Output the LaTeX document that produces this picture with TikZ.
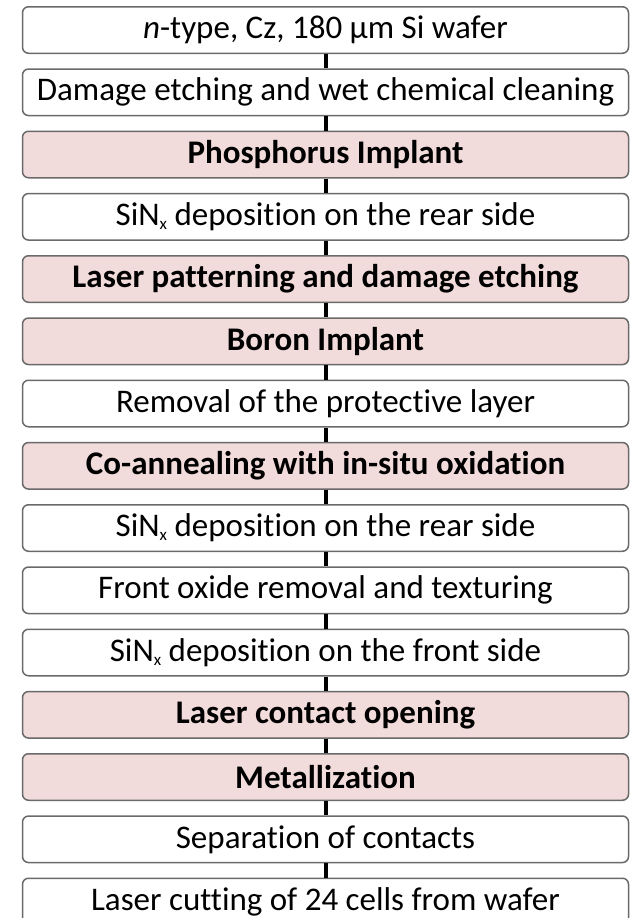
\documentclass[tikz,border=0pt]{standalone}
\usepackage{fontspec}
\setmainfont{Carlito}[Ligatures={NoCommon}]
\definecolor{pinkfill}{HTML}{F2DCDB}
\definecolor{edgegray}{HTML}{6A6A6A}
\tikzset{
  stepbox/.style={draw=edgegray, line width=1.5pt, rounded corners=6pt, fill=white,
    minimum width=606pt, minimum height=46.5pt, inner sep=0pt, font=\fontsize{33}{38}\selectfont},
  pinkbox/.style={stepbox, fill=pinkfill, font=\fontsize{33}{38}\selectfont\bfseries},
  link/.style={line width=4pt, black}
}
\newcommand{\sinx}{SiN\raisebox{-0.25ex}{\fontsize{17}{19}\selectfont x}}
\begin{document}
\begin{tikzpicture}[x=1pt,y=-1pt]
\useasboundingbox (0,0) rectangle (633,918);
\begin{scope}
\clip (0,0) rectangle (633,918);
\node[stepbox] (b1)  at (325.5, 30.0)  {\textit{n}-type, Cz, 180 µm Si wafer};
\node[stepbox] (b2)  at (325.5, 92.3)  {Damage etching and wet chemical cleaning};
\node[pinkbox] (b3)  at (325.5, 154.5) {Phosphorus Implant};
\node[stepbox] (b4)  at (325.5, 216.8) {\sinx{} deposition on the rear side};
\node[pinkbox] (b5)  at (325.5, 279.0) {Laser patterning and damage etching};
\node[pinkbox] (b6)  at (325.5, 341.3) {Boron Implant};
\node[stepbox] (b7)  at (325.5, 403.5) {Removal of the protective layer};
\node[pinkbox] (b8)  at (325.5, 465.8) {Co-annealing with in-situ oxidation};
\node[stepbox] (b9)  at (325.5, 528.0) {\sinx{} deposition on the rear side};
\node[stepbox] (b10) at (325.5, 590.3) {Front oxide removal and texturing};
\node[stepbox] (b11) at (325.5, 652.5) {\sinx{} deposition on the front side};
\node[pinkbox] (b12) at (325.5, 714.8) {Laser contact opening};
\node[pinkbox] (b13) at (325.5, 777.0) {Metallization};
\node[stepbox] (b14) at (325.5, 839.3) {Separation of contacts};
\node[stepbox] (b15) at (325.5, 901.5) {Laser cutting of 24 cells from wafer};
\foreach \a/\b in {b1/b2,b2/b3,b3/b4,b4/b5,b5/b6,b6/b7,b7/b8,b8/b9,b9/b10,b10/b11,b11/b12,b12/b13,b13/b14,b14/b15}
  \draw[link] (\a.south) -- (\b.north);
\end{scope}
\end{tikzpicture}
\end{document}
